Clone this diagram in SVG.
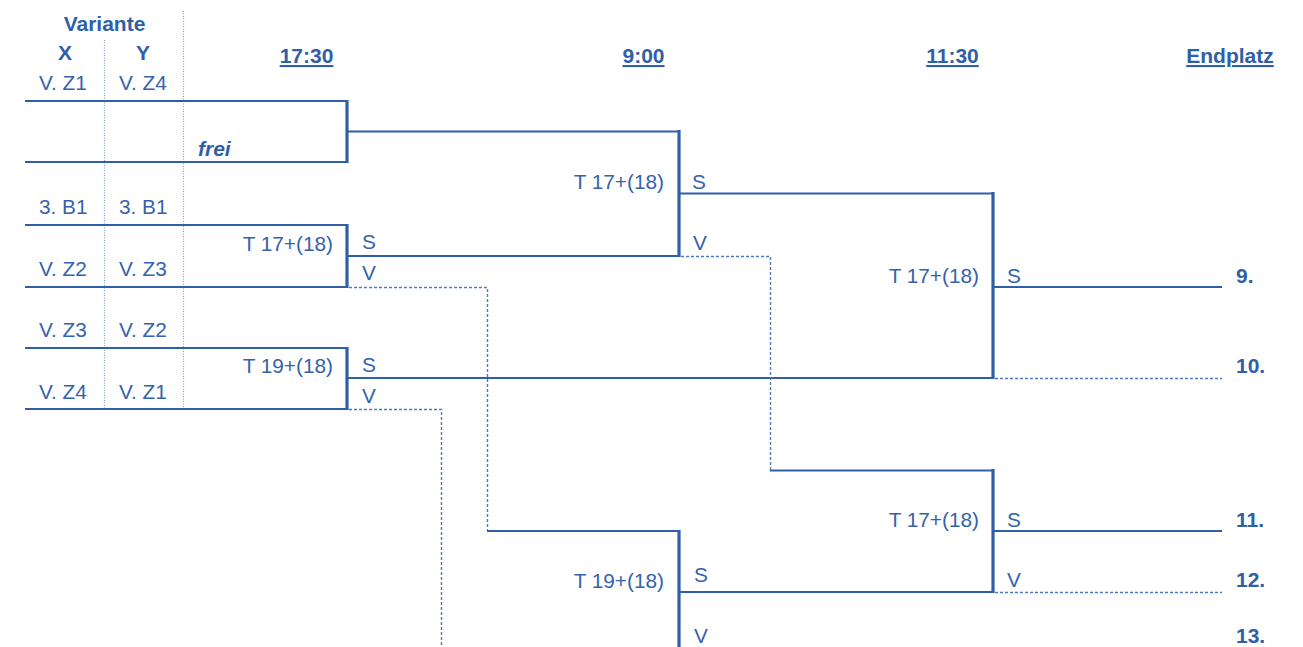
<svg xmlns="http://www.w3.org/2000/svg" width="1303" height="647" viewBox="0 0 1303 647">
<style>
text{font-family:"Liberation Sans",Arial,sans-serif;font-size:20.8px;fill:#3463ab}
.b{font-weight:bold;fill:#2f5fa7;font-size:21px}
.u{text-decoration:underline}
.r{text-anchor:end}
.m{text-anchor:middle}
.h{stroke:#2f5fa7;stroke-width:2;fill:none}
.v{stroke:#2f5fa7;stroke-width:3.2;fill:none}
.d{stroke:#4f7bbd;stroke-width:1.4;stroke-dasharray:3 2;fill:none}
.dot{stroke:#7f9fd0;stroke-width:1.2;stroke-dasharray:1 1.5;fill:none}
</style>
<rect width="1303" height="647" fill="#fff"/>
<g id="header">
<text class="b m" x="104.5" y="31">Variante</text>
<text class="b m" x="65" y="60">X</text>
<text class="b m" x="143" y="60">Y</text>
<text class="b u m" x="306.5" y="63">17:30</text>
<text class="b u m" x="643.5" y="63">9:00</text>
<text class="b u m" x="952.5" y="63">11:30</text>
<text class="b u m" x="1230" y="63">Endplatz</text>
<line class="dot" x1="104.5" y1="40" x2="104.5" y2="409"/>
<line class="dot" x1="183.5" y1="11" x2="183.5" y2="409"/>
</g>
<g id="entries">
<text x="39" y="90">V. Z1</text><text x="119" y="90">V. Z4</text>
<text x="39" y="214">3. B1</text><text x="119" y="214">3. B1</text>
<text x="39" y="276">V. Z2</text><text x="119" y="276">V. Z3</text>
<text x="39" y="337">V. Z3</text><text x="119" y="337">V. Z2</text>
<text x="39" y="399">V. Z4</text><text x="119" y="399">V. Z1</text>
</g>
<g id="m1">
<line class="h" x1="25" y1="101" x2="347" y2="101"/>
<line class="h" x1="25" y1="162" x2="347" y2="162"/>
<line class="v" x1="347" y1="100" x2="347" y2="163"/>
<text x="198" y="156" class="b" font-style="italic">frei</text>
</g>
<g id="m2">
<line class="h" x1="25" y1="225" x2="347" y2="225"/>
<line class="h" x1="25" y1="287" x2="347" y2="287"/>
<line class="v" x1="347" y1="224" x2="347" y2="288"/>
<text class="r" x="333" y="251">T 17+(18)</text>
<text x="362" y="249">S</text>
<text x="362" y="280">V</text>
</g>
<g id="m3">
<line class="h" x1="25" y1="348" x2="347" y2="348"/>
<line class="h" x1="25" y1="409" x2="347" y2="409"/>
<line class="v" x1="347" y1="347" x2="347" y2="410"/>
<text class="r" x="333" y="373">T 19+(18)</text>
<text x="362" y="372">S</text>
<text x="362" y="403">V</text>
</g>
<g id="m4">
<line class="v" x1="679" y1="130" x2="679" y2="257"/>
<text class="r" x="664" y="189">T 17+(18)</text>
<text x="692" y="189">S</text>
<text x="693" y="250">V</text>
</g>
<g id="m5">
<line class="v" x1="679" y1="530" x2="679" y2="647"/>
<text class="r" x="664" y="588">T 19+(18)</text>
<text x="694" y="582">S</text>
<text x="694" y="643">V</text>
</g>
<g id="m6">
<line class="v" x1="993" y1="192" x2="993" y2="379"/>
<text class="r" x="979" y="283">T 17+(18)</text>
<text x="1007" y="283">S</text>
<text class="b" x="1236" y="283">9.</text>
<text class="b" x="1236" y="373">10.</text>
</g>
<g id="m7">
<line class="v" x1="993" y1="469" x2="993" y2="593"/>
<text class="r" x="979" y="527">T 17+(18)</text>
<text x="1007" y="527">S</text>
<text x="1007" y="587">V</text>
<text class="b" x="1236" y="527">11.</text>
<text class="b" x="1236" y="587">12.</text>
<text class="b" x="1236" y="643">13.</text>
</g>
<g id="connectors">
<line class="h" x1="347" y1="131.5" x2="679" y2="131.5"/>
<line class="h" x1="347" y1="256" x2="679" y2="256"/>
<line class="h" x1="347" y1="378" x2="993" y2="378"/>
<line class="h" x1="679" y1="193.5" x2="993" y2="193.5"/>
<line class="h" x1="993" y1="287" x2="1222" y2="287"/>
<path class="d" d="M349 287.5H487.5V531"/>
<line class="h" x1="487" y1="531" x2="679" y2="531"/>
<path class="d" d="M349 409.5H441.5V647"/>
<path class="d" d="M681 256.5H770.5V470"/>
<line class="h" x1="770" y1="470.5" x2="993" y2="470.5"/>
<line class="d" x1="995" y1="378.5" x2="1222" y2="378.5"/>
<line class="h" x1="679" y1="592" x2="993" y2="592"/>
<line class="h" x1="993" y1="531" x2="1222" y2="531"/>
<line class="d" x1="995" y1="592.5" x2="1222" y2="592.5"/>
</g>
</svg>
